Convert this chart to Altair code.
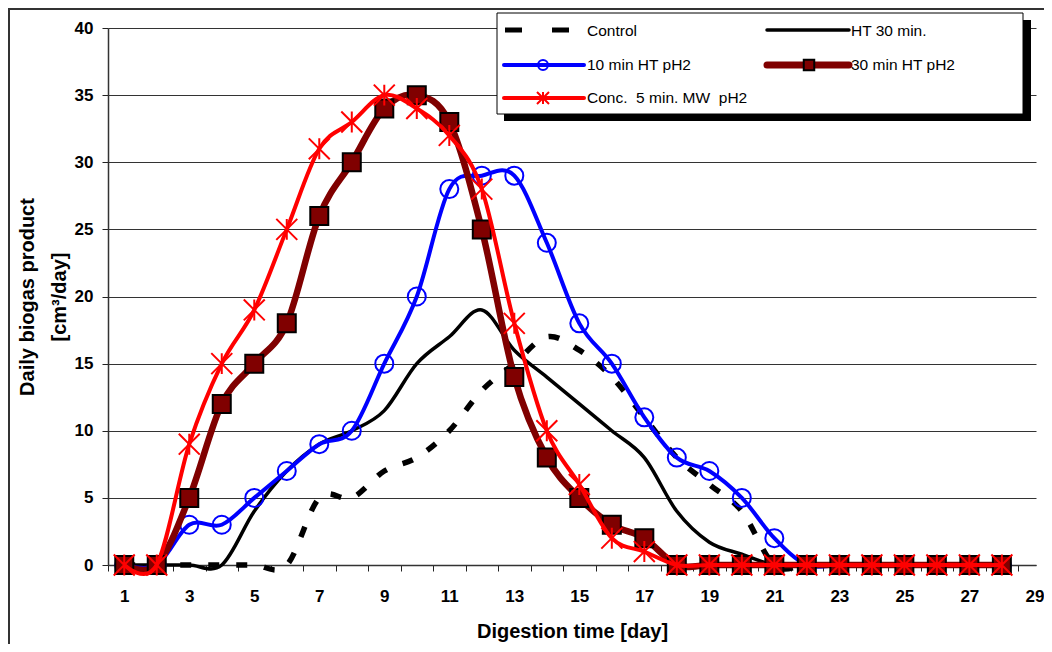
import altair as alt
import pandas as pd

# ---------------- data ----------------
days = list(range(1, 29))
series_names = ["Control", "HT 30 min.", "10 min HT pH2", "30 min HT pH2",
                "Conc.\u00a0 5 min. MW\u00a0 pH2"]
control = [0, 0, 0, 0, 0, 0, 5, 5, 7, 8, 10, 13, 15, 17, 16, 14, 11, 8, 6, 4,
           0, 0, 0, 0, 0, 0, 0, 0]
ht_30 = [0, 0, 0, 0, 4, 7, 9, 10, 11.5, 15, 17, 19, 16, 14, 12, 10, 8, 4, 1.7, 0.8,
         0, 0, 0, 0, 0, 0, 0, 0]
ht10_ph2 = [0, 0, 3, 3, 5, 7, 9, 10, 15, 20, 28, 29, 29, 24, 18, 15, 11, 8, 7, 5,
            2, 0, 0, 0, 0, 0, 0, 0]
ht30_ph2 = [0, 0, 5, 12, 15, 18, 26, 30, 34, 35, 33, 25, 14, 8, 5, 3, 2, 0, 0, 0,
            0, 0, 0, 0, 0, 0, 0, 0]
mw5_ph2 = [0, 0, 9, 15, 19, 25, 31, 33, 35, 34, 32, 28, 18, 10, 6, 2, 1, 0, 0, 0,
           0, 0, 0, 0, 0, 0, 0, 0]

y_ticks = [0, 5, 10, 15, 20, 25, 30, 35, 40]
x_tick_bounds = [i + 0.5 for i in range(0, 29)]   # category boundaries
y_title = ["Daily biogas product", "[cm\u00b3/day]"]
x_title = "Digestion time [day]"

FONT = "Liberation Sans"
W, H = 928, 537
PAD = {"left": 100, "top": 20, "right": 8, "bottom": 79}

x_scale = alt.Scale(domain=[0.5, 29.05], nice=False, zero=False)
y_scale = alt.Scale(domain=[0, 40], nice=False, zero=True)
CAT = W / 28.55

x_axis = alt.Axis(
    values=x_tick_bounds,
    labelExpr="(datum.value + 0.5) % 2 == 1 ? format(datum.value + 0.5, 'd') : ''",
    labelOffset=CAT / 2, labelOverlap=False, labelFlush=False, labelBound=False,
    tickSize=6, tickColor="#222", tickWidth=1,
    domainColor="#333", domainWidth=1.5, grid=False,
    labelFont=FONT, labelFontSize=17, labelFontWeight="bold", labelColor="black",
    labelPadding=17,
    titleFont=FONT, titleFontSize=20, titleFontWeight="bold", titleColor="black",
    titleY=66, titleBaseline="middle",
)
y_axis = alt.Axis(
    values=y_ticks, grid=True, gridColor="#333", gridWidth=1,
    tickSize=6, tickColor="#222", tickWidth=1,
    domainColor="#333", domainWidth=1.5,
    labelFont=FONT, labelFontSize=17, labelFontWeight="bold", labelColor="black",
    labelPadding=9,
    titleFont=FONT, titleFontSize=20, titleFontWeight="bold", titleColor="black",
    titleX=-81, titleY=H / 2, titleBaseline="middle", titleAlign="center",
    titleLineHeight=32,
)

X = alt.X("day:Q", scale=x_scale, axis=x_axis, title=x_title)
Y = alt.Y("value:Q", scale=y_scale, axis=y_axis, title=y_title)


def frame(values):
    return pd.DataFrame({"day": days, "value": values})


one = pd.DataFrame({"k": [0]})
layers = []

# chart-area frame (left and top edges)
layers.append(alt.Chart(one).mark_rule(color="#333", strokeWidth=2).encode(
    x=alt.value(-100), x2=alt.value(W + PAD["right"]), y=alt.value(-19)))
layers.append(alt.Chart(one).mark_rule(color="#333", strokeWidth=2).encode(
    x=alt.value(-99), y=alt.value(-20), y2=alt.value(H + PAD["bottom"])))

# Control
layers.append(alt.Chart(frame(control)).mark_line(
    interpolate="cardinal", color="black", strokeWidth=5.5,
    strokeDash=[11, 17], strokeCap="butt").encode(x=X, y=Y))
# HT 30 min.
layers.append(alt.Chart(frame(ht_30)).mark_line(
    interpolate="cardinal", color="black", strokeWidth=3.5).encode(x=X, y=Y))
# 10 min HT pH2
layers.append(alt.Chart(frame(ht10_ph2)).mark_line(
    interpolate="cardinal", color="#0000FF", strokeWidth=4).encode(x=X, y=Y))
layers.append(alt.Chart(frame(ht10_ph2)).mark_point(
    shape="circle", size=324, filled=False, color="#0000FF", strokeWidth=2,
    opacity=1).encode(x=X, y=Y))
# 30 min HT pH2
layers.append(alt.Chart(frame(ht30_ph2)).mark_line(
    interpolate="cardinal", color="#800000", strokeWidth=6.5).encode(x=X, y=Y))
layers.append(alt.Chart(frame(ht30_ph2)).mark_point(
    shape="square", size=324, filled=True, fill="#800000", stroke="black",
    strokeWidth=2, opacity=1).encode(x=X, y=Y))
# Conc. 5 min MW pH2
STAR = "M-1,-1L1,1M-1,1L1,-1M0,-1L0,1"
layers.append(alt.Chart(frame(mw5_ph2)).mark_line(
    interpolate="cardinal", color="#FF0000", strokeWidth=4).encode(x=X, y=Y))
layers.append(alt.Chart(frame(mw5_ph2)).mark_point(
    shape=STAR, size=440, filled=False, color="#FF0000", strokeWidth=2,
    opacity=1).encode(x=X, y=Y))

# ---------------- legend box ----------------
layers.append(alt.Chart(one).mark_rect(color="black").encode(
    x=alt.value(396), x2=alt.value(923), y=alt.value(-8), y2=alt.value(93)))
layers.append(alt.Chart(one).mark_rect(fill="white", stroke="black", strokeWidth=1).encode(
    x=alt.value(389), x2=alt.value(915), y=alt.value(-15), y2=alt.value(86)))

row_y = [2, 37, 70]
col_line = [(396, 476), (659, 741)]
col_text = [479, 743]


def legend_text(name, x, y):
    return alt.Chart(pd.DataFrame({"name": [name]})).mark_text(
        align="left", baseline="middle", font=FONT, fontSize=15.5, color="black"
    ).encode(text="name:N", x=alt.value(x), y=alt.value(y))


# Control sample
layers.append(alt.Chart(one).mark_rule(color="black", strokeWidth=5,
                                        strokeDash=[17, 30], strokeCap="butt").encode(
    x=alt.value(397), x2=alt.value(461), y=alt.value(row_y[0])))
layers.append(legend_text(series_names[0], col_text[0], row_y[0] + 1))
# HT 30 min sample
layers.append(alt.Chart(one).mark_rule(color="black", strokeWidth=3.5, strokeCap="round").encode(
    x=alt.value(col_line[1][0]), x2=alt.value(col_line[1][1]), y=alt.value(row_y[0])))
layers.append(legend_text(series_names[1], col_text[1], row_y[0] + 1))
# 10 min HT pH2 sample
layers.append(alt.Chart(one).mark_rule(color="#0000FF", strokeWidth=4, strokeCap="round").encode(
    x=alt.value(col_line[0][0]), x2=alt.value(col_line[0][1]), y=alt.value(row_y[1])))
layers.append(alt.Chart(one).mark_point(shape="circle", size=100, filled=False,
                                         color="#0000FF", strokeWidth=2, opacity=1).encode(
    x=alt.value(435), y=alt.value(row_y[1])))
layers.append(legend_text(series_names[2], col_text[0], row_y[1]))
# 30 min HT pH2 sample
layers.append(alt.Chart(one).mark_rule(color="#800000", strokeWidth=7, strokeCap="round").encode(
    x=alt.value(col_line[1][0]), x2=alt.value(col_line[1][1]), y=alt.value(row_y[1])))
layers.append(alt.Chart(one).mark_point(shape="square", size=110, filled=True,
                                         fill="#800000", stroke="black", strokeWidth=2,
                                         opacity=1).encode(
    x=alt.value(701), y=alt.value(row_y[1])))
layers.append(legend_text(series_names[3], col_text[1], row_y[1]))
# Conc 5 min MW pH2 sample
layers.append(alt.Chart(one).mark_rule(color="#FF0000", strokeWidth=4, strokeCap="round").encode(
    x=alt.value(col_line[0][0]), x2=alt.value(col_line[0][1]), y=alt.value(row_y[2])))
layers.append(alt.Chart(one).mark_point(shape=STAR, size=144, filled=False,
                                         color="#FF0000", strokeWidth=2, opacity=1).encode(
    x=alt.value(435), y=alt.value(row_y[2])))
layers.append(legend_text(series_names[4], col_text[0], row_y[2]))

chart = alt.layer(*layers).properties(
    width=W, height=H,
    autosize=alt.AutoSizeParams(type="none"),
    padding=PAD,
    background="white",
).configure_view(stroke="transparent")

chart.save("out.html", embed_options={"renderer": "svg", "actions": False})
